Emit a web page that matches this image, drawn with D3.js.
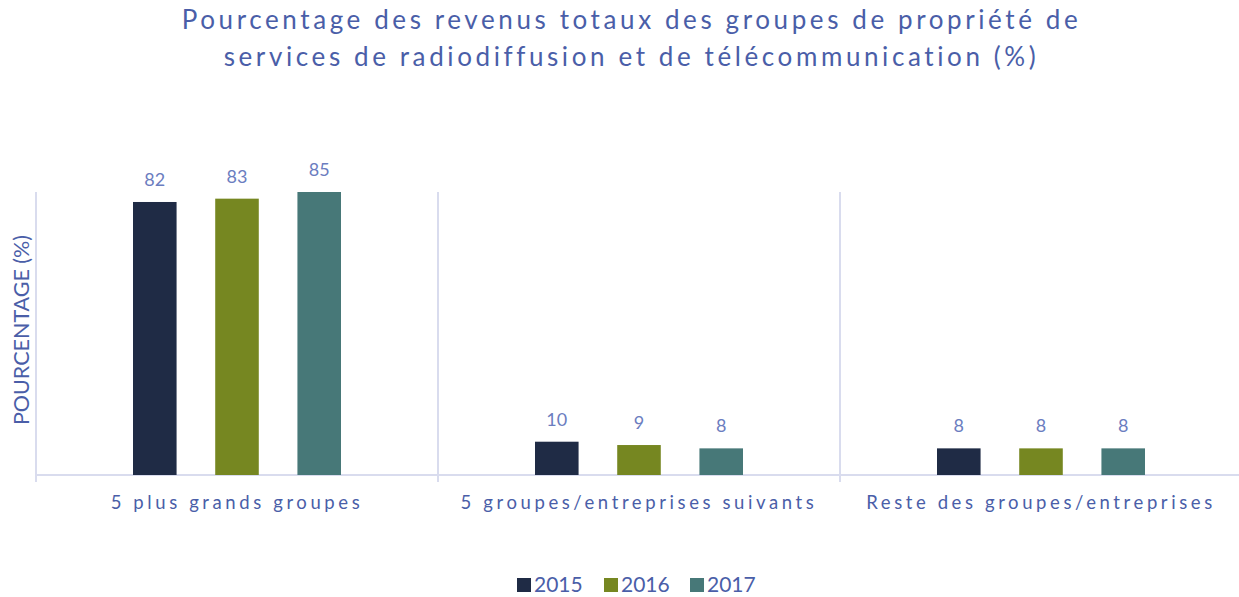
<!DOCTYPE html>
<html>
<head>
<meta charset="utf-8">
<script src="https://cdn.jsdelivr.net/npm/d3@7"></script>
<style>
  body { margin: 0; background: #fff; }
  svg { display: block; font-family: Lato, "Open Sans", sans-serif; }
</style>
</head>
<body>
<div id="container"></div>
<script>
// chart data
var categories = ["5 plus grands groupes", "5 groupes/entreprises suivants", "Reste des groupes/entreprises"];
var years = ["2015", "2016", "2017"];
var values2015 = [82, 10, 8];
var values2016 = [83, 9, 8];
var values2017 = [85, 8, 8];
var titleLines = ["Pourcentage des revenus totaux des groupes de propriété de",
                  "services de radiodiffusion et de télécommunication (%)"];

var series = [values2015, values2016, values2017];
var colors = ["#1f2b45", "#768721", "#477878"];

var w = 1239, h = 597;
var svg = d3.select("div#container").append("svg")
  .attr("width", w).attr("height", h);

var plotLeft = 36, plotBase = 475, plotTop = 192;

var x0 = d3.scaleBand().domain(categories).range([plotLeft, plotLeft + 3 * 402]);
var x1 = d3.scaleBand().domain(years).range([97, 305]).paddingInner(0.47);
var y = d3.scaleLinear().domain([0, 85]).range([plotBase, plotTop]);

var lineColor = "#d9dcee";

// title
svg.append("g").selectAll("text")
  .data(titleLines).enter().append("text")
  .attr("x", w / 2 + 12)
  .attr("y", function(d, i) { return 29 + i * 37; })
  .attr("text-anchor", "middle")
  .attr("fill", "#4a5ea8")
  .style("font-size", "26px")
  .style("letter-spacing", "3.6px")
  .text(function(d) { return d; });

// category dividers
svg.append("g").selectAll("line")
  .data(categories).enter().append("line")
  .attr("x1", function(d) { return x0(d); })
  .attr("x2", function(d) { return x0(d); })
  .attr("y1", plotTop).attr("y2", plotBase + 7)
  .attr("stroke", lineColor).attr("stroke-width", 2);

// baseline
svg.append("line")
  .attr("x1", plotLeft).attr("x2", w)
  .attr("y1", plotBase).attr("y2", plotBase)
  .attr("stroke", lineColor).attr("stroke-width", 2);

// bars
var groups = svg.append("g").selectAll("g")
  .data(categories).enter().append("g")
  .attr("transform", function(d) { return "translate(" + x0(d) + ",0)"; });

groups.selectAll("rect")
  .data(function(d, ci) { return years.map(function(yr, k) { return { year: yr, value: series[k][ci], k: k }; }); })
  .enter().append("rect")
  .attr("x", function(d) { return x1(d.year); })
  .attr("width", x1.bandwidth())
  .attr("y", function(d) { return y(d.value); })
  .attr("height", function(d) { return plotBase - y(d.value); })
  .attr("fill", function(d) { return colors[d.k]; });

groups.selectAll("text")
  .data(function(d, ci) { return years.map(function(yr, k) { return { year: yr, value: series[k][ci] }; }); })
  .enter().append("text")
  .attr("x", function(d) { return x1(d.year) + x1.bandwidth() / 2; })
  .attr("y", function(d) { return y(d.value) - 16; })
  .attr("text-anchor", "middle")
  .attr("fill", "#6b7dbf")
  .style("font-size", "18px")
  .text(function(d) { return d.value; });

// category labels
svg.append("g").selectAll("text")
  .data(categories).enter().append("text")
  .attr("x", function(d) { return x0(d) + x0.bandwidth() / 2; })
  .attr("y", 509)
  .attr("text-anchor", "middle")
  .attr("fill", "#4a5ea8")
  .style("font-size", "18.5px")
  .style("letter-spacing", "3.6px")
  .text(function(d) { return d; });

// y axis title
svg.append("text")
  .attr("transform", "translate(29,330) rotate(-90)")
  .attr("text-anchor", "middle")
  .attr("fill", "#4a5ea8")
  .style("font-size", "21.5px")
  .text("POURCENTAGE (%)");

// legend
var legendX = [517, 604, 690];
var legend = svg.append("g").selectAll("g")
  .data(years).enter().append("g")
  .attr("transform", function(d, i) { return "translate(" + legendX[i] + ",578)"; });
legend.append("rect")
  .attr("width", 14).attr("height", 14)
  .attr("fill", function(d, i) { return colors[i]; });
legend.append("text")
  .attr("x", 17).attr("y", 14)
  .attr("fill", "#4a5ea8")
  .style("font-size", "21px")
  .text(function(d) { return d; });
</script>
</body>
</html>
